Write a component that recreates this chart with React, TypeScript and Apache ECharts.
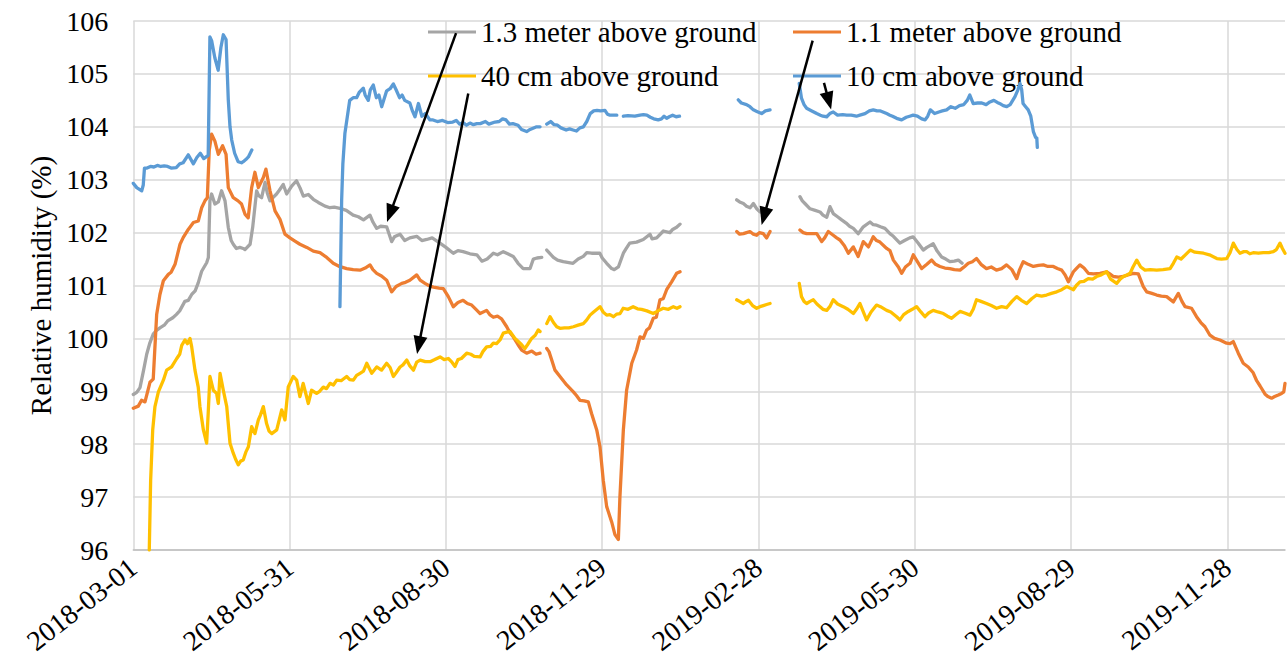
import React, { useEffect, useRef } from 'react';
import * as echarts from 'echarts';

// x values are day offsets from 2018-03-01
const START_UTC = Date.UTC(2018, 2, 1);
const TICK_DAYS = 91;
const X_MAX_DAYS = 670.5;
const Y_MIN = 96;
const Y_MAX = 106;

const seriesNames = ['1.3 meter above ground', '1.1 meter above ground', '40 cm above ground', '10 cm above ground'];
const seriesColors = ['#A5A5A5', '#ED7D31', '#FFC000', '#5B9BD5'];

const gray13m = [
  [[0,98.94],[2,98.98],[3.9,99.07],[6,99.4],[7.8,99.7],[9.5,99.9],[11.6,100.08],[13.5,100.15],[15.5,100.2],[18,100.25],[20,100.33],[23,100.39],[25,100.45],[27,100.52],[30,100.7],[32,100.72],[34,100.83],[36,100.9],[37.8,101.05],[39.8,101.27],[42.7,101.43],[43.7,101.53],[44.6,102.6],[45.6,102.73],[47.5,102.54],[49.5,102.58],[51.4,102.79],[53.4,102.6],[55.3,102.1],[57,101.85],[58.2,101.78],[60,101.7],[62,101.72],[64,101.7],[65,101.68],[68,101.78],[69.5,102.1],[71.8,102.79],[73,102.7],[74.7,102.66],[76.7,102.95],[78,102.75],[79.6,102.6],[81,102.65],[83.4,102.73],[85,102.8],[87.3,102.91],[89.3,102.73],[92.2,102.88],[95,102.98],[97,102.85],[99,102.69],[101.9,102.72],[104.8,102.63],[107.7,102.57],[111.6,102.5],[114.5,102.47],[117,102.48],[120.3,102.46],[124,102.42],[128,102.33],[131,102.3],[134,102.24],[137.8,102.33],[139.5,102.2],[141.7,102.08],[144,102.12],[147.5,102.11],[150.4,101.83],[152,101.92],[155.3,101.97],[158,101.85],[161,101.9],[165,101.93],[168,101.85],[170.8,101.87],[174,101.9],[178.5,101.8],[182,101.72],[186.3,101.61],[189,101.66],[192,101.64],[196,101.6],[200,101.58],[203,101.46],[206,101.5],[209.6,101.61],[212,101.58],[215.4,101.64],[218,101.6],[221.2,101.55],[224,101.42],[227,101.32],[231,101.32],[232.9,101.5],[235,101.52],[237.8,101.53]],
  [[240.7,101.67],[244.6,101.53],[247,101.48],[250.3,101.45],[256,101.42],[259,101.5],[262,101.55],[264,101.62],[266.8,101.61],[271.6,101.61],[273,101.52],[275.6,101.42],[278.5,101.32],[280,101.3],[282.4,101.35],[285.3,101.61],[287,101.7],[289,101.8],[293,101.82],[296.9,101.87],[300.8,101.97],[302,101.88],[304.7,101.9],[308.6,102.03],[312.4,102.0],[314,102.06],[316.3,102.1],[318.3,102.16]],
  [[351.3,102.62],[353,102.58],[355.2,102.55],[357,102.5],[359.1,102.47],[361,102.55],[363,102.45],[364.8,102.39],[366.5,102.38],[368.7,102.42]],
  [[388.1,102.68],[389.5,102.6],[391,102.55],[394,102.45],[397,102.42],[399.8,102.39],[401.5,102.33],[403.7,102.29],[405.6,102.49],[407.5,102.36],[410,102.3],[412.4,102.24],[415,102.18],[417,102.12],[419.2,102.08],[422,101.98],[425,102.11],[428.9,102.2],[430.8,102.15],[432.8,102.14],[435,102.11],[437.6,102.08],[440.5,101.98],[442.5,101.93],[446.3,101.8],[449,101.85],[452,101.9],[454,101.92],[457,101.8],[459.9,101.67],[462,101.72],[465.7,101.79],[468,101.65],[470.6,101.54],[473,101.5],[475.4,101.45],[478,101.46],[480.3,101.48],[482.5,101.42]]
];

const orange11m = [
  [[0,98.68],[2.9,98.72],[4.8,98.83],[6.8,98.8],[8,98.95],[9.7,99.17],[11.6,99.23],[13.6,100.45],[15.5,100.83],[17.5,101.09],[20.4,101.21],[22,101.25],[24.3,101.4],[27.2,101.78],[29.1,101.91],[32,102.06],[35,102.19],[37.8,102.22],[39.8,102.47],[41.7,102.6],[43.1,102.66],[44.2,103.55],[45.6,103.86],[47.5,103.73],[49.5,103.48],[52,103.64],[54,103.48],[55.3,102.85],[58.2,102.66],[61,102.6],[63,102.54],[65,102.35],[66.9,102.28],[68.9,102.85],[70.8,103.14],[72.8,102.85],[75.7,103.04],[77.2,103.2],[79.6,102.79],[82.5,102.41],[85.4,102.25],[88.3,101.97],[91.2,101.9],[94.1,101.84],[97,101.78],[101,101.72],[104.8,101.65],[108.7,101.62],[112.6,101.53],[116.4,101.42],[120,101.36],[124.2,101.32],[128,101.3],[132,101.29],[135,101.33],[137.8,101.39],[139.5,101.3],[141.7,101.23],[144.5,101.18],[147.5,101.1],[150.4,100.88],[153,100.98],[156.3,101.04],[158.5,101.06],[161,101.1],[165,101.2],[167,101.1],[169.8,101.04],[172,101.0],[174.7,100.97],[178,100.95],[180.5,100.94],[183.4,100.79],[186.3,100.6],[189,100.68],[192,100.72],[194.5,100.66],[197,100.63],[199.5,100.55],[201.9,100.47],[205.7,100.53],[207.5,100.45],[209.6,100.4],[212,100.42],[214.4,100.37],[217.4,100.22],[219,100.12],[221.2,100.03],[224,99.88],[226.1,99.78],[229,99.72],[232,99.76],[234.5,99.7],[236.8,99.72]],
  [[240.7,99.81],[242,99.75],[243.6,99.59],[245.5,99.4],[248.4,99.28],[252.3,99.12],[256.2,98.99],[258,98.92],[260,98.83],[262.5,98.82],[264.9,98.8],[266.8,98.58],[269.8,98.27],[271.7,97.95],[273.6,97.32],[275.6,96.82],[278.5,96.53],[280.4,96.29],[282.4,96.2],[283.3,97.0],[285.3,98.27],[287.2,99.02],[290.2,99.53],[293,99.78],[295,100.03],[296.9,100.0],[298.9,100.16],[300.5,100.2],[302.7,100.38],[304.5,100.4],[306.6,100.73],[308.5,100.75],[310.5,100.92],[313.4,101.07],[316.3,101.23],[318.3,101.26]],
  [[351.3,102.02],[353,101.97],[355.2,101.98],[357,102.0],[359,102.02],[361,101.97],[362.9,101.95],[364.5,102.0],[366.8,101.98],[368.7,101.9],[370.7,102.02]],
  [[388.1,102.05],[390,102.0],[392,101.98],[395,101.98],[397.9,101.98],[400.8,101.83],[402.5,101.9],[404.6,102.02],[407.5,101.95],[409.5,101.9],[411.4,101.86],[414,101.75],[416.3,101.61],[419.2,101.73],[422,101.55],[425,101.83],[428,101.73],[430.8,101.92],[432.7,101.85],[434.7,101.82],[438.6,101.7],[440.5,101.66],[442.5,101.48],[445.4,101.35],[447.3,101.23],[449.5,101.35],[452.2,101.42],[454.1,101.58],[456.5,101.45],[459,101.32],[462,101.4],[464.8,101.48],[467,101.4],[469.6,101.36],[472.5,101.33],[475.4,101.32],[478,101.3],[481.3,101.29],[484,101.36],[486.1,101.42],[488.5,101.45],[490.9,101.51],[493.5,101.4],[496.7,101.32],[499.5,101.35],[502.5,101.29],[505.5,101.32],[508.4,101.39],[511.5,101.3],[514.3,101.13],[516,101.3],[518.1,101.45],[521,101.4],[524,101.36],[527,101.38],[529.8,101.39],[532.5,101.36],[535.6,101.36],[538,101.32],[540.5,101.29],[542.5,101.2],[544.4,101.07],[547.3,101.26],[549,101.32],[551.1,101.39],[553.5,101.33],[556,101.23],[559,101.22],[562.8,101.23],[566.7,101.26],[568.5,101.22],[570.6,101.17],[573.5,101.16],[576.4,101.17],[579,101.2],[582.2,101.23],[585.1,101.22],[588,100.98],[590,100.88],[593,100.85],[595.8,100.82],[598.5,100.8],[601.6,100.79],[605.5,100.69],[608.4,100.85],[610.5,100.7],[612.3,100.6],[616.1,100.57],[619,100.41],[621.5,100.3],[623.9,100.22],[626.8,100.06],[629.5,100.0],[632.6,99.97],[636.5,99.91],[638.5,99.9],[640.4,99.94],[643.3,99.72],[646.2,99.53],[649.1,99.46],[652,99.35],[654,99.2],[656,99.1],[658.8,98.95],[660.5,98.9],[662.7,98.87],[664.5,98.9],[666.6,98.93],[668.5,98.96],[669.8,98.99],[670.5,99.15]]
];

const yellow40cm = [
  [[9.3,96.0],[10.1,97.32],[11.3,98.27],[12.6,98.71],[14.6,98.99],[17.5,99.21],[19.4,99.4],[22.3,99.46],[25.3,99.62],[27,99.7],[28.2,99.87],[30.1,99.97],[31.5,99.9],[33,100.0],[34,99.84],[35.9,99.4],[37.8,99.08],[38.8,98.71],[40.8,98.27],[42.7,98.02],[43.6,98.58],[44.6,99.28],[46.6,99.02],[48.5,98.96],[49.5,98.77],[50.5,99.34],[52.4,99.02],[54.4,98.71],[56.3,98.02],[58.2,97.83],[59.5,97.72],[61.1,97.61],[62.5,97.68],[64,97.7],[65.5,97.85],[67,97.95],[68.9,98.33],[70.8,98.2],[72.8,98.46],[74,98.55],[75.7,98.71],[77.6,98.39],[79,98.25],[80.6,98.2],[83.5,98.27],[86.4,98.65],[88.3,98.46],[90.2,99.08],[93.1,99.28],[95.1,99.21],[97,98.9],[98.9,99.15],[101.9,98.77],[103.8,99.02],[106.7,98.96],[108.5,99.0],[110.6,99.08],[112.5,99.05],[114.5,99.15],[116.5,99.12],[118.4,99.21],[121,99.2],[124.2,99.28],[126,99.22],[128.1,99.21],[130,99.3],[132,99.34],[134,99.38],[135.9,99.53],[138.8,99.34],[141.7,99.46],[144.5,99.4],[147.5,99.53],[149.5,99.45],[151.4,99.28],[153,99.35],[155.3,99.46],[157,99.5],[159.2,99.59],[161,99.48],[163.1,99.4],[165,99.55],[167,99.59],[170,99.56],[172.8,99.56],[175.5,99.6],[178.6,99.65],[181,99.6],[183.4,99.62],[185.5,99.55],[187.3,99.47],[189,99.6],[191,99.62],[194.1,99.72],[196.5,99.7],[198.5,99.66],[201.9,99.65],[203.5,99.75],[205.7,99.84],[208,99.85],[209.6,99.91],[211.5,99.9],[213.5,99.97],[215.4,100.1],[217.4,100.12],[219.3,100.13],[222.2,100.0],[223.2,99.97],[225.5,99.9],[227.1,99.84],[228,99.81],[229.5,99.88],[231.9,100.0],[234,100.06],[235.8,100.16],[236.8,100.13]],
  [[240.7,100.28],[242.6,100.41],[244.6,100.3],[246.5,100.22],[248.4,100.19],[251,100.2],[253.5,100.2],[256.2,100.22],[259,100.25],[262,100.28],[264,100.35],[265.9,100.44],[268,100.5],[271.7,100.6],[273.5,100.5],[275.6,100.44],[277.5,100.45],[279.5,100.41],[281.5,100.46],[283.4,100.47],[285.2,100.57],[288,100.55],[291,100.6],[293.5,100.56],[295.9,100.55],[299,100.52],[302.7,100.47],[305.5,100.52],[308.5,100.57],[311.5,100.55],[314.4,100.6],[316.5,100.57],[318.3,100.6]],
  [[351.3,100.73],[353,100.7],[355.2,100.66],[356.8,100.7],[358.1,100.72],[360.5,100.62],[362.9,100.57],[364.8,100.6],[366.8,100.62],[368.7,100.64],[370.7,100.66]],
  [[387.7,101.04],[389,100.79],[390.5,100.7],[392,100.66],[394,100.7],[395.9,100.73],[398,100.65],[399.8,100.6],[401.5,100.55],[403.7,100.53],[405.5,100.6],[407.5,100.73],[410,100.65],[413.3,100.6],[416,100.55],[419.2,100.47],[421,100.55],[423,100.66],[425,100.5],[426.9,100.35],[429.5,100.5],[432.7,100.63],[435,100.6],[438.6,100.53],[441,100.5],[444.4,100.41],[446.3,100.35],[448.5,100.45],[451.2,100.51],[453.5,100.55],[456,100.6],[458.5,100.5],[460.9,100.41],[463,100.48],[465.7,100.53],[468.5,100.5],[471.6,100.47],[474,100.42],[476.4,100.38],[479,100.45],[481.3,100.51],[484,100.48],[487.1,100.44],[489,100.55],[490.9,100.73],[493.5,100.7],[496.7,100.66],[499.5,100.62],[502.6,100.57],[505.5,100.6],[508.4,100.58],[511.5,100.7],[514.3,100.79],[517,100.72],[520.1,100.66],[523,100.75],[525.9,100.82],[528.8,100.8],[531.7,100.82],[534.5,100.85],[537.6,100.88],[540.5,100.92],[543.4,100.98],[545.5,100.95],[547.3,100.92],[549,101.0],[551.1,101.07],[553.5,101.08],[556,101.13],[558.5,101.12],[560.8,101.17],[563.5,101.2],[566.7,101.26],[569,101.12],[572.5,101.04],[574.5,101.12],[576.4,101.17],[578.5,101.2],[580.3,101.23],[582,101.35],[584.2,101.48],[586.5,101.35],[589,101.29],[592,101.3],[595.8,101.29],[599.5,101.3],[603.6,101.32],[605.5,101.42],[607.5,101.54],[610,101.5],[612.5,101.58],[615.3,101.67],[618,101.63],[620.5,101.62],[623.1,101.61],[626.5,101.58],[630.8,101.51],[633.5,101.5],[636.6,101.51],[638.5,101.62],[640.4,101.8],[642.5,101.68],[644.3,101.61],[646.5,101.64],[648.2,101.64],[650,101.6],[652,101.62],[655,101.61],[657.9,101.62],[661,101.62],[663.7,101.64],[665.5,101.68],[667.6,101.8],[669,101.7],[670.5,101.61]]
];

const blue10cm = [
  [[0,102.93],[2,102.85],[4.9,102.79],[5.8,102.9],[6.5,103.22],[8,103.22],[10,103.25],[12,103.24],[14,103.27],[16,103.25],[18,103.26],[20,103.25],[22,103.22],[25,103.23],[27,103.3],[29,103.32],[32,103.47],[35,103.3],[37,103.42],[39,103.5],[41,103.4],[43.6,103.46],[44.6,105.7],[45.6,105.63],[47.5,105.3],[49.4,105.07],[51,105.5],[52.4,105.74],[54,105.65],[55.3,104.51],[56.3,104.0],[57.3,103.75],[59,103.5],[61,103.34],[63,103.32],[64,103.34],[65.5,103.38],[67,103.43],[69,103.56]],
  [[120.3,100.6],[121.3,102.62],[122,103.3],[123.2,103.88],[126,104.5],[128,104.55],[130,104.55],[131.5,104.65],[133.9,104.73],[135,104.6],[136.8,104.5],[138,104.7],[139.7,104.79],[141.5,104.55],[143,104.6],[144.6,104.38],[147.5,104.68],[149.5,104.72],[151.4,104.81],[153,104.7],[155,104.55],[156.5,104.6],[158,104.5],[161,104.45],[162.5,104.3],[164,104.19],[166,104.44],[168,104.2],[170,104.25],[172.7,104.13],[174.5,104.13],[177,104.1],[180,104.12],[183,104.08],[186,104.09],[188,104.12],[190,104.05],[192,104.08],[194,104.03],[196,104.07],[198,104.04],[200,104.06],[202,104.06],[205,104.1],[207,104.05],[210.6,104.09],[213,104.1],[215,104.15],[217,104.13],[219,104.05],[221,104.06],[224,104.03],[226,103.95],[229,103.91],[231,103.95],[234.8,104.0],[236.8,104.0]],
  [[240.7,104.05],[243,104.1],[245,104.04],[247,104.03],[249,103.98],[252,103.94],[254,103.96],[256,103.94],[258,103.92],[260,103.98],[262,104.0],[264,104.1],[266,104.25],[268,104.3],[270,104.31],[272,104.3],[274.6,104.31],[276,104.24],[277.5,104.22],[279.5,104.22],[281.5,104.22]],
  [[285.3,104.2],[288,104.21],[292,104.2],[295,104.22],[297,104.23],[299,104.22],[301,104.18],[303,104.15],[305.6,104.13],[307.5,104.15],[309,104.2],[310.5,104.16],[312,104.19],[314,104.22],[316,104.19],[318,104.2]],
  [[352.2,104.51],[354,104.45],[357,104.42],[359,104.38],[361,104.32],[363,104.29],[365.8,104.25],[368,104.3],[370.7,104.32]],
  [[387.7,104.82],[388.5,104.65],[389,104.54],[390.5,104.42],[392,104.35],[395,104.3],[397.9,104.25],[400,104.22],[401.5,104.2],[403.7,104.19],[405.5,104.25],[407.5,104.28],[410,104.22],[413,104.23],[415.3,104.22],[418,104.22],[421,104.2],[423,104.22],[426,104.25],[428.5,104.3],[430.8,104.32],[433,104.3],[435,104.3],[438.6,104.25],[440.5,104.22],[442,104.2],[444.4,104.16],[447.3,104.13],[450,104.18],[452,104.2],[454,104.22],[456.5,104.2],[459,104.15],[461,104.13],[462.5,104.2],[464,104.32],[466.5,104.25],[469,104.28],[471,104.3],[473.5,104.32],[476,104.38],[478.5,104.35],[481,104.4],[483.5,104.42],[485.5,104.5],[487,104.6],[489,104.44],[491.5,104.45],[494,104.45],[496.5,104.42],[498.7,104.47],[501,104.5],[503,104.46],[505,104.43],[506.5,104.4],[508.5,104.38],[510.5,104.42],[513.3,104.57],[515,104.7],[516.2,104.82],[517.2,104.7],[518,104.44],[519.5,104.38],[521,104.32],[522.5,104.2],[524,103.91],[525.3,103.8],[526,103.79],[526.3,103.61]]
];

const seriesSegments = [gray13m, orange11m, yellow40cm, blue10cm];

// annotation arrows: [fromDay, fromValue, toDay, toValue]
const arrows = [
  [187.9, 105.77, 149.5, 102.36],
  [195.0, 104.63, 166.2, 99.87],
  [395.5, 105.63, 367.2, 102.31],
  [402.1, 104.83, 404.9, 104.49]
];

const FONT = 'Liberation Serif';

function joinSegments(segs: number[][][]) {
  const out: any[] = [];
  segs.forEach((seg, i) => {
    if (i > 0) out.push([(segs[i - 1][segs[i - 1].length - 1][0] + seg[0][0]) / 2, null]);
    seg.forEach((p) => out.push(p));
  });
  return out;
}

function dayLabel(v: number) {
  const d = Math.round(v);
  if (d % TICK_DAYS !== 0 || d > 640) return '';
  return new Date(START_UTC + d * 86400000).toISOString().slice(0, 10);
}

export default function App() {
  const ref = useRef<HTMLDivElement>(null);
  useEffect(() => {
    if (!ref.current) return;
    const chart = echarts.init(ref.current, null, { renderer: 'svg' });
    const legendPos = [
      { left: 428, top: 16 },
      { left: 793, top: 16 },
      { left: 428, top: 60 },
      { left: 793, top: 60 }
    ];
    chart.setOption({
      animation: false,
      backgroundColor: '#ffffff',
      textStyle: { fontFamily: FONT },
      grid: { left: 133.3, right: 2, top: 21, bottom: 110, outerBoundsMode: 'none', containLabel: false },
      legend: seriesNames.map((name, i) => ({
        data: [name],
        left: legendPos[i].left,
        top: legendPos[i].top,
        padding: 0,
        icon: 'rect',
        itemWidth: 48,
        itemHeight: 3,
        itemGap: 0,
        selectedMode: false,
        itemStyle: { borderWidth: 0 },
        textStyle: { fontFamily: FONT, fontSize: 29, color: '#000', lineHeight: 32 }
      })),
      xAxis: {
        type: 'value',
        min: 0,
        max: X_MAX_DAYS,
        interval: TICK_DAYS,
        axisLine: { show: true, lineStyle: { color: '#BFBFBF', width: 1.5 } },
        axisTick: { show: false },
        axisLabel: {
          formatter: dayLabel,
          rotate: 38,
          margin: 14,
          fontFamily: FONT,
          fontSize: 28,
          color: '#000',
          showMaxLabel: false
        },
        splitLine: { show: true, showMaxLine: false, lineStyle: { color: '#D9D9D9', width: 1.5 } }
      },
      yAxis: {
        type: 'value',
        min: Y_MIN,
        max: Y_MAX,
        interval: 1,
        name: 'Relative humidity (%)',
        nameLocation: 'middle',
        nameGap: 78,
        nameTextStyle: { fontFamily: FONT, fontSize: 29, color: '#000' },
        axisLine: { show: false },
        axisTick: { show: false },
        axisLabel: { margin: 25, fontFamily: FONT, fontSize: 28, color: '#000' },
        splitLine: { show: true, lineStyle: { color: '#D9D9D9', width: 1.5 } }
      },
      series: seriesNames.map((name, i) => ({
        name,
        type: 'line',
        data: joinSegments(seriesSegments[i]),
        showSymbol: false,
        symbol: 'none',
        connectNulls: false,
        color: seriesColors[i],
        lineStyle: { color: seriesColors[i], width: 3.3, join: 'round', cap: 'round' },
        emphasis: { disabled: true },
        silent: true,
        z: 2 + i,
        markLine: i === 0 ? {
          silent: true,
          symbol: ['none', 'triangle'],
          symbolSize: [14, 18],
          label: { show: false },
          emphasis: { disabled: true },
          lineStyle: { color: '#000', width: 2.5, type: 'solid' },
          itemStyle: { color: '#000' },
          z: 10,
          data: arrows.map((a) => [
            { coord: [a[0], a[1]] },
            { coord: [a[2], a[3]] }
          ])
        } : undefined
      }))
    });
    return () => chart.dispose();
  }, []);
  return <div ref={ref} style={{ position: 'fixed', left: 0, top: 0, width: 1287, height: 660, background: '#fff' }} />;
}
